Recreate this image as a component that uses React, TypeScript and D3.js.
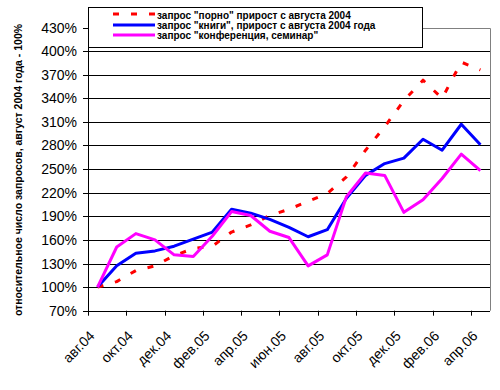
import React from "react";
import * as d3 from "d3";

// months (one category per month), labels shown every second month
const months = [
  "авг.04", "сен.04", "окт.04", "ноя.04", "дек.04", "янв.05", "фев.05",
  "мар.05", "апр.05", "май.05", "июн.05", "июл.05", "авг.05", "сен.05",
  "окт.05", "ноя.05", "дек.05", "янв.06", "фев.06", "мар.06", "апр.06",
];

// percent, август 2004 = 100%
const porno = [100, 107, 121, 127, 140, 149, 152, 170, 179, 191, 199, 209, 219, 240, 274, 304, 337, 363, 340, 386, 376];
const books = [100, 127, 143, 146, 152, 161, 170, 199, 194, 186, 176, 164, 173, 213, 242, 257, 264, 288, 274, 307, 281];
const conf = [100, 151, 168, 160, 141, 139, 165, 196, 191, 171, 163, 127, 141, 215, 245, 242, 195, 211, 238, 269, 248];

const yTicks = [70, 100, 130, 160, 190, 220, 250, 280, 310, 340, 370, 400, 430];

const legendLabels = [
  'запрос "порно" прирост с августа 2004',
  'запрос "книги", прирост с августа 2004 года',
  'запрос "конференция, семинар"',
];
const yTitle = "относительное число запросов, август 2004 года - 100%";

const W = 500;
const H = 390;
const left = 88;
const right = 490;
const top = 27.5;
const bottom = 310.7;
const font = "'Liberation Sans', Arial, sans-serif";

const App = () => {
  const x = d3.scaleBand<string>().domain(months).range([left, right]);
  const cx = (i: number) => (x(months[i]) as number) + x.bandwidth() / 2;
  const y = d3.scaleLinear().domain([70, 430]).range([bottom, top]);

  const line = d3.line<number>()
    .x((d, i) => cx(i))
    .y(d => y(d));

  const series = [
    { values: porno, color: "#ff0000", dash: "6,12" },
    { values: books, color: "#0000ff", dash: null },
    { values: conf, color: "#ff00ff", dash: null },
  ];

  return (
    <svg width={W} height={H} style={{ position: "absolute", left: 0, top: 0, background: "#fff" }}>
      {/* gridlines */}
      {yTicks.filter(t => t > 70 && t < 430).map(t => (
        <line key={t} x1={left} x2={right} y1={Math.round(y(t)) + 0.5} y2={Math.round(y(t)) + 0.5} stroke="#000" />
      ))}
      {/* plot area border */}
      <path d={`M${left},${Math.round(top) + 0.5}H${right + 0.5}V${bottom}`} fill="none" stroke="#808080" />

      {/* series */}
      {series.map((s, k) => (
        <path key={k} d={line(s.values) as string} fill="none" stroke={s.color} strokeWidth={3}
          strokeDasharray={s.dash ?? undefined} strokeLinejoin="round" />
      ))}

      {/* y axis */}
      <line x1={left + 0.5} x2={left + 0.5} y1={top} y2={Math.round(bottom) + 0.5} stroke="#000" />
      {yTicks.map(t => (
        <g key={t} transform={`translate(0,${Math.round(y(t)) + 0.5})`}>
          <line x1={left - 5} x2={left} stroke="#000" />
          <text x={left - 11} dy="0.35em" textAnchor="end" fontFamily={font} fontSize={14}>{t}%</text>
        </g>
      ))}

      {/* x axis */}
      <line x1={left} x2={right} y1={Math.round(bottom) + 0.5} y2={Math.round(bottom) + 0.5} stroke="#000" />
      {months.map((m, i) => i % 2 === 0 ? (
        <g key={m}>
          <line x1={Math.round(x(m) as number) + 0.5} x2={Math.round(x(m) as number) + 0.5}
            y1={bottom} y2={bottom + 5} stroke="#000" />
          <text transform={`translate(${cx(i) - 2},${bottom + 26}) rotate(-45)`} textAnchor="end"
            fontFamily={font} fontSize={14}>{m}</text>
        </g>
      ) : null)}

      {/* y title */}
      <text transform={`translate(22,170) rotate(-90)`} textAnchor="middle"
        fontFamily={font} fontSize={10.5} fontWeight="bold">{yTitle}</text>

      {/* legend */}
      <rect x={left + 0.5} y={7.5} width={334} height={40} fill="#fff" stroke="#000" />
      {series.map((s, k) => (
        <g key={k} transform={`translate(0,${15 + k * 10})`}>
          <line x1={113} x2={155} y1={k === 0 ? -1 : 0} y2={k === 0 ? -1 : 0} stroke={s.color} strokeWidth={3}
            strokeDasharray={s.dash ?? undefined} />
          <text x={157} dy="0.35em" fontFamily={font} fontSize={10} fontWeight="bold">{legendLabels[k]}</text>
        </g>
      ))}
    </svg>
  );
};

export default App;
